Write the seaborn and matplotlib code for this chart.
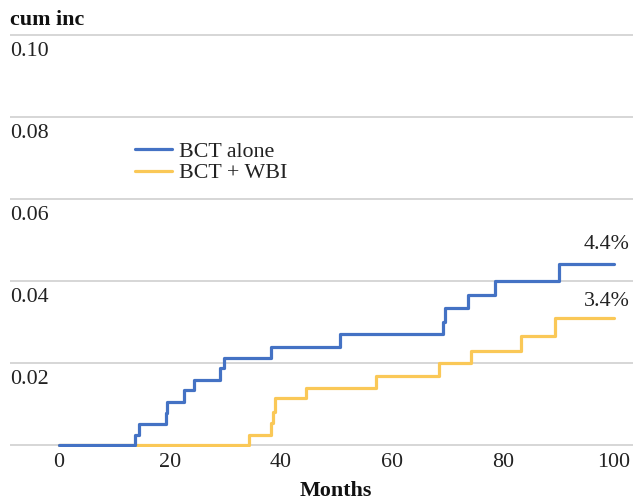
import matplotlib
matplotlib.use("Agg")
import matplotlib.pyplot as plt
import matplotlib.transforms as mtransforms
import seaborn as sns
import pandas as pd

# ---- data ----
blue_label = "BCT alone"
blue_months = [0, 13.7, 14.5, 19.2, 19.4, 22.5, 24.4, 29.0, 29.7, 38.2, 50.7,
               69.1, 69.6, 73.7, 78.6, 90.0, 100]
blue_cuminc = [0, 0.0024, 0.0051, 0.0079, 0.0106, 0.0134, 0.0159, 0.0189, 0.0213,
               0.0240, 0.0271, 0.0301, 0.0335, 0.0366, 0.0401, 0.0441, 0.0441]

yellow_label = "BCT + WBI"
yellow_months = [0, 34.2, 38.2, 38.5, 38.9, 44.5, 57.2, 68.5, 74.3, 83.3, 89.4, 100]
yellow_cuminc = [0, 0.0024, 0.0053, 0.0080, 0.0114, 0.0140, 0.0168, 0.0201, 0.0229,
                 0.0266, 0.0309, 0.0309]

end_labels = ["4.4%", "3.4%"]
end_label_y = [0.0488, 0.0349]
end_label_x = 98.7

x_ticks = [0, 20, 40, 60, 80, 100]
y_ticks = [0.02, 0.04, 0.06, 0.08, 0.10]
y_tick_labels = ["0.02", "0.04", "0.06", "0.08", "0.10"]

# ---- styling ----
sns.set_style("white")
plt.rcParams["font.family"] = ["Liberation Serif", "DejaVu Serif"]
FS = 15.8
BLUE = "#4472C4"
YELLOW = "#FAC857"
GRID = "#D3D3D3"

W, H = 633, 500
fig = plt.figure(figsize=(W / 100, H / 100), dpi=100)
x_px0, x_px100 = 59.0, 614.0
ppm = (x_px100 - x_px0) / 100.0
xmin = (10 - x_px0) / ppm
xmax = (W - x_px0) / ppm
ppu = (445 - 35) / 0.10
pad_units = 2.0 / ppu
ax_bottom_px = 445 + 2
ax_top_px = 35 - 2
ax = fig.add_axes([10 / W, 1 - ax_bottom_px / H, (W - 10) / W, (ax_bottom_px - ax_top_px) / H])

df_y = pd.DataFrame({"month": yellow_months, "cuminc": yellow_cuminc})
df_b = pd.DataFrame({"month": blue_months, "cuminc": blue_cuminc})

sns.lineplot(data=df_y, x="month", y="cuminc", ax=ax, color=YELLOW, lw=2.3,
             drawstyle="steps-post", estimator=None, label=yellow_label, zorder=3)
sns.lineplot(data=df_b, x="month", y="cuminc", ax=ax, color=BLUE, lw=2.3,
             drawstyle="steps-post", estimator=None, label=blue_label, zorder=4)

ax.set_xlim(xmin, xmax)
ax.set_ylim(-pad_units, 0.10 + pad_units)

for s in ax.spines.values():
    s.set_visible(False)

for v in [0.0] + y_ticks:
    ax.axhline(v, color=GRID, lw=1.3, zorder=1)

ax.set_yticks([])
ax.set_xticks(x_ticks)
ax.set_xticklabels([str(t) for t in x_ticks], fontsize=FS)
ax.tick_params(axis="x", direction="in", length=9.5, width=1.0, color=GRID,
               pad=4.5, labelcolor="#222222")
ax.set_xlabel("")
ax.set_ylabel("")

trans = mtransforms.blended_transform_factory(ax.transAxes, ax.transData)
for v, lab in zip(y_ticks, y_tick_labels):
    ax.text(0.0, v - 16.5 / ppu, lab, transform=trans, ha="left", va="center",
            fontsize=FS, color="#222222")

for yv, lab in zip(end_label_y, end_labels):
    ax.text(end_label_x, yv, lab, ha="center", va="center", fontsize=FS, color="#222222")

fig.text(10 / W, 1 - 20 / H, "cum inc", fontsize=FS, fontweight="bold",
         ha="left", va="center", color="#111111")
fig.text(336 / W, 1 - 491 / H, "Months", fontsize=FS, fontweight="bold",
         ha="center", va="center", color="#111111")

handles, labels = ax.get_legend_handles_labels()
order = [labels.index(blue_label), labels.index(yellow_label)]
leg = ax.legend([handles[i] for i in order], [labels[i] for i in order],
                loc="center left", bbox_to_anchor=(135 / W, 1 - 162.5 / H),
                bbox_transform=fig.transFigure, frameon=False, fontsize=FS,
                handlelength=1.7, handletextpad=0.3, labelspacing=0.05,
                borderpad=0, borderaxespad=0)
for t in leg.get_texts():
    t.set_color("#222222")

fig.savefig("out.png", dpi=100)
